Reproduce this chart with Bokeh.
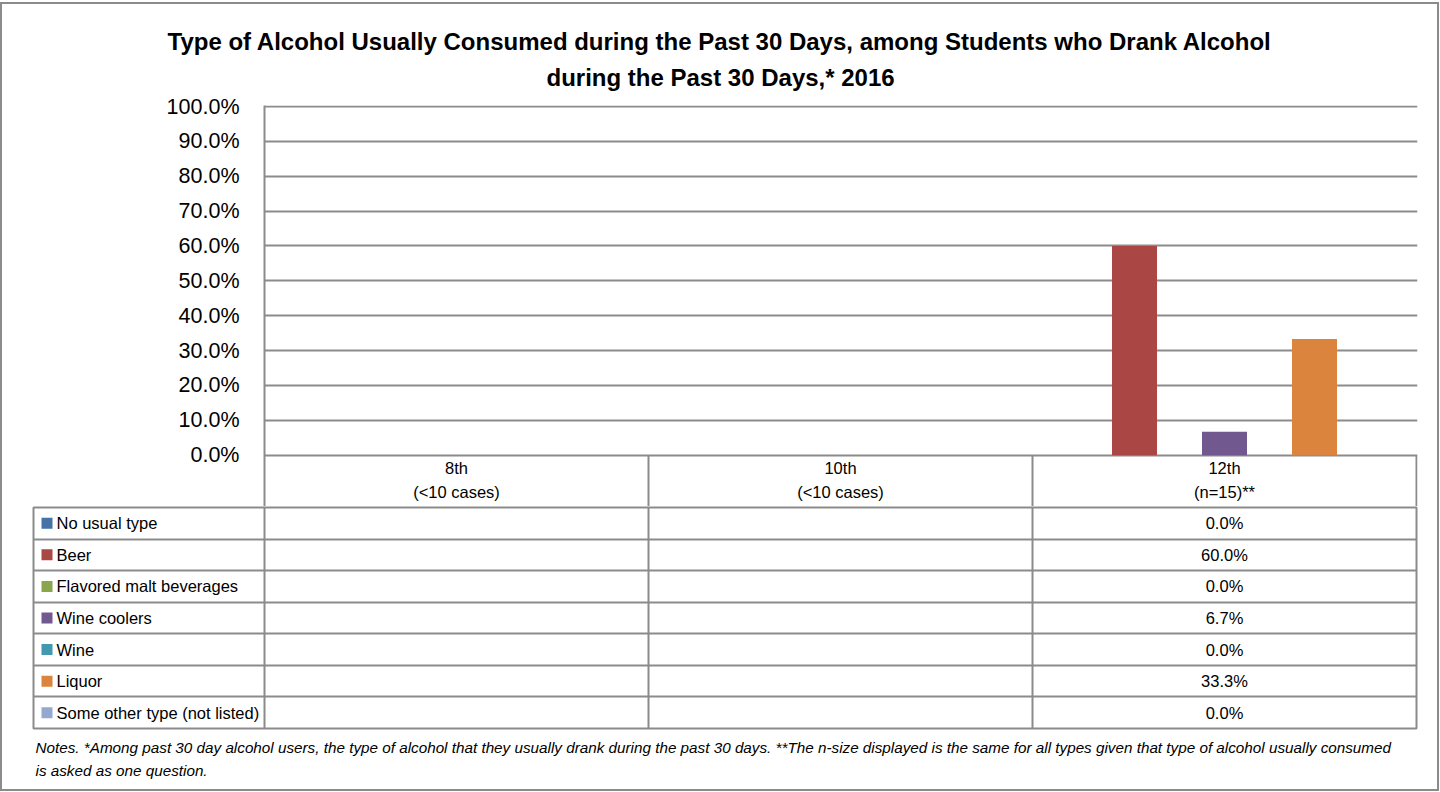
from bokeh.plotting import figure
from bokeh.models import Range1d, FixedTicker, PrintfTickFormatter, Title, Grid
from bokeh.embed import file_html
from bokeh.resources import INLINE
from bokeh.core.properties import value

# ---------------- data ----------------
grades = ["8th", "10th", "12th"]
grade_notes = ["(<10 cases)", "(<10 cases)", "(n=15)**"]
types = [
    "No usual type",
    "Beer",
    "Flavored malt beverages",
    "Wine coolers",
    "Wine",
    "Liquor",
    "Some other type (not listed)",
]
pct_8th = [None, None, None, None, None, None, None]
pct_10th = [None, None, None, None, None, None, None]
pct_12th = [0.0, 60.0, 0.0, 6.7, 0.0, 33.3, 0.0]
y_ticks = [0, 10, 20, 30, 40, 50, 60, 70, 80, 90, 100]
colors = ["#4572A7", "#AA4643", "#89A54E", "#71588F", "#4198AF", "#DB843D", "#93A9CF"]
title_lines = [
    "Type of Alcohol Usually Consumed during the Past 30 Days, among Students who Drank Alcohol",
    "during the Past 30 Days,* 2016",
]
notes_lines = [
    "Notes. *Among past 30 day alcohol users, the type of alcohol that they usually drank during the past 30 days. "
    "**The n-size displayed is the same for all types given that type of alcohol usually consumed",
    "is asked as one question.",
]

# ---------------- style / layout constants ----------------
FONT = "Liberation Sans"
GRID = "#8b8b8b"
BORDER = "2px solid #8b8b8b"
COL_PX = 384.0               # pixel width of one grade column
LABEL_COL = 231 / COL_PX     # width of the legend column, in column units
BAR_STEP = 45 / COL_PX       # bar width / spacing, in column units
PLOT_PX = 347.0              # pixel height of 0..100 %
HDR_PX = 53.0                # pixel height of the category header row
HDR = 100 * HDR_PX / PLOT_PX
HDR_L1 = 100 * 13 / PLOT_PX
HDR_L2 = 100 * 37 / PLOT_PX
TOP_PAD = 100 * 1 / PLOT_PX  # 1px above 100% so its gridline shows

series_by_grade = [pct_8th, pct_10th, pct_12th]
n_types = len(types)
n_grades = len(grades)
mid = (n_types - 1) / 2

# ---------------- chart (with category header row) ----------------
chart = figure(
    width=1435, height=502,
    x_range=Range1d(0, n_grades + 1 / COL_PX), y_range=Range1d(-HDR, 100 + TOP_PAD),
    output_backend="svg", toolbar_location=None, title_location=None,
    x_axis_location=None,
    min_border_left=262, min_border_right=24, min_border_top=101, min_border_bottom=0,
    outline_line_color=None, background_fill_color="white", border_fill_color="white",
    styles={"box-sizing": "content-box", "margin-top": "2px",
            "border-left": BORDER, "border-right": BORDER, "border-top": BORDER},
)

for i, t in enumerate(types):
    xs, tops = [], []
    for g, vals in enumerate(series_by_grade):
        v = vals[i]
        if v is not None:
            xs.append(g + 0.5 + (i - mid) * BAR_STEP)
            tops.append(v)
    chart.vbar(x=xs, top=tops, bottom=0, width=BAR_STEP, fill_color=colors[i], line_color=None)

yt = FixedTicker(ticks=y_ticks)
yax = chart.yaxis[0]
yax.ticker = yt
yax.formatter = PrintfTickFormatter(format="%.1f%%")
yax.major_label_text_font = FONT
yax.major_label_text_font_size = "21.5px"
yax.major_label_text_color = "black"
yax.axis_line_color = GRID
yax.axis_line_width = 2
yax.major_tick_line_color = None
yax.minor_tick_line_color = None
yax.major_tick_out = 0
yax.major_tick_in = 0
yax.major_label_standoff = 25
for gr in chart.ygrid:
    gr.ticker = yt
    gr.grid_line_color = GRID
    gr.grid_line_width = 2
for gr in chart.xgrid:
    gr.visible = False

# header row: column separators and category labels
bounds = list(range(1, n_grades + 1))
chart.segment(x0=bounds, x1=bounds, y0=[-HDR] * len(bounds), y1=[0] * len(bounds),
              line_color=GRID, line_width=2)
centers = [g + 0.5 for g in range(n_grades)]
chart.text(x=centers, y=[-HDR_L1] * n_grades, text=grades,
           text_font=value(FONT), text_font_size="16.5px", text_color="black",
           text_align="center", text_baseline="middle")
chart.text(x=centers, y=[-HDR_L2] * n_grades, text=grade_notes,
           text_font=value(FONT), text_font_size="16.5px", text_color="black",
           text_align="center", text_baseline="middle")

t2 = Title(text=title_lines[1], align="left", offset=282, standoff=29,
           text_font=FONT, text_font_size="24px", text_font_style="bold", text_color="black")
t1 = Title(text=title_lines[0], align="left", offset=-97, standoff=-15,
           text_font=FONT, text_font_size="24px", text_font_style="bold", text_color="black")
chart.add_layout(t2, "above")
chart.add_layout(t1, "above")

# ---------------- data table ----------------
table = figure(
    width=1435, height=283,
    x_range=Range1d(-LABEL_COL, n_grades), y_range=Range1d(n_types, 0),
    output_backend="svg", toolbar_location=None, title_location=None,
    x_axis_location=None, y_axis_location=None,
    min_border_left=31, min_border_right=25, min_border_top=1, min_border_bottom=63,
    outline_line_color=GRID, outline_line_width=2,
    background_fill_color="white", border_fill_color="white",
    styles={"box-sizing": "content-box",
            "border-left": BORDER, "border-right": BORDER, "border-bottom": BORDER},
)
for gr in table.grid:
    gr.visible = False
table.add_layout(Grid(dimension=0, ticker=FixedTicker(ticks=list(range(n_grades))),
                      grid_line_color=GRID, grid_line_width=2), "center")
table.add_layout(Grid(dimension=1, ticker=FixedTicker(ticks=list(range(1, n_types))),
                      grid_line_color=GRID, grid_line_width=2), "center")

rows = [i + 0.5 for i in range(n_types)]
table.scatter(x=[-LABEL_COL + 13.5 / COL_PX] * n_types, y=rows, marker="square", size=11,
              fill_color=colors, line_color=None)
table.text(x=[-LABEL_COL + 23 / COL_PX] * n_types, y=rows, text=types,
           text_font=value(FONT), text_font_size="16.5px", text_color="black",
           text_align="left", text_baseline="middle")

vx, vy, vt = [], [], []
for g, vals in enumerate(series_by_grade):
    for i, v in enumerate(vals):
        if v is not None:
            vx.append(g + 0.5)
            vy.append(i + 0.5)
            vt.append(f"{v:.1f}%")
table.text(x=vx, y=vy, text=vt, text_font=value(FONT), text_font_size="16.5px",
           text_color="black", text_align="center", text_baseline="middle")

n1 = Title(text=notes_lines[0], align="left", offset=2, standoff=16,
           text_font=FONT, text_font_size="15.25px", text_font_style="italic", text_color="black")
n2 = Title(text=notes_lines[1], align="left", offset=2, standoff=-7,
           text_font=FONT, text_font_size="15.25px", text_font_style="italic", text_color="black")
table.add_layout(n1, "below")
table.add_layout(n2, "below")

open("out.html", "w").write(file_html([chart, table], INLINE))
